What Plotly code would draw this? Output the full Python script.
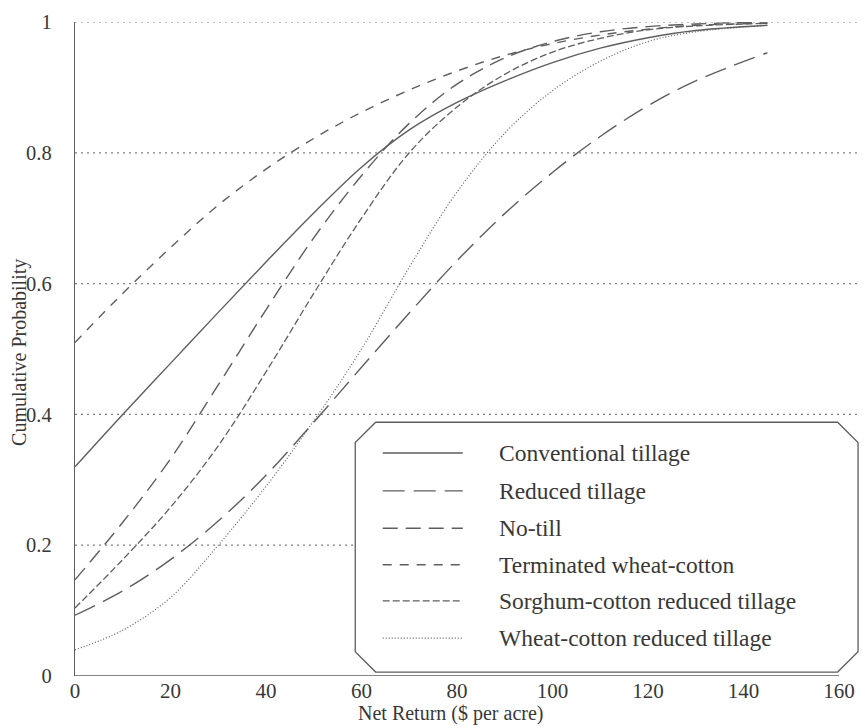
import plotly.graph_objects as go

net_return = [0, 10, 20, 30, 40, 50, 60, 70, 80, 90, 100, 110, 120, 130, 145]

conventional = [0.32, 0.40, 0.478, 0.556, 0.633, 0.708, 0.778, 0.835, 0.877, 0.91, 0.938, 0.96, 0.976, 0.987, 0.995]
reduced = [0.093, 0.13, 0.178, 0.237, 0.307, 0.388, 0.472, 0.555, 0.635, 0.707, 0.77, 0.825, 0.872, 0.91, 0.953]
no_till = [0.147, 0.235, 0.332, 0.445, 0.56, 0.67, 0.765, 0.845, 0.905, 0.945, 0.97, 0.985, 0.993, 0.997, 1.0]
terminated = [0.51, 0.585, 0.655, 0.72, 0.775, 0.822, 0.862, 0.896, 0.925, 0.949, 0.967, 0.98, 0.989, 0.995, 0.998]
sorghum = [0.104, 0.178, 0.258, 0.352, 0.465, 0.585, 0.7, 0.8, 0.87, 0.92, 0.954, 0.975, 0.988, 0.994, 0.998]
wheat_cotton = [0.04, 0.07, 0.12, 0.2, 0.29, 0.39, 0.5, 0.625, 0.74, 0.83, 0.895, 0.94, 0.97, 0.985, 0.995]

series_names = ["Conventional tillage", "Reduced tillage", "No-till",
                "Terminated wheat-cotton", "Sorghum-cotton reduced tillage",
                "Wheat-cotton reduced tillage"]
series_values = [conventional, reduced, no_till, terminated, sorghum, wheat_cotton]
dashes = ["solid", "22px,9px", "15px,8px", "9px,8px", "7px,3px", "1px,2px"]
widths = [1.4, 1.4, 1.4, 1.4, 1.3, 1.2]

x_ticks = [0, 20, 40, 60, 80, 100, 120, 140, 160]
y_ticks = [0, 0.2, 0.4, 0.6, 0.8, 1]
y_tick_text = ["0", "0.2", "0.4", "0.6", "0.8", "1"]

LINE = "#5e5e5e"
TEXT = "#383838"
FONT = "Liberation Serif"

fig = go.Figure()
for name, vals, d, w in zip(series_names, series_values, dashes, widths):
    fig.add_trace(go.Scatter(x=net_return, y=vals, mode="lines", name=name,
                             line=dict(color=LINE, width=w, dash=d, shape="spline", smoothing=1.0),
                             showlegend=False, cliponaxis=False))

shapes = []
# dotted gridlines
for yv in y_ticks[1:]:
    shapes.append(dict(type="line", xref="paper", yref="y", x0=0, x1=1, y0=yv, y1=yv,
                       line=dict(color="#808080", width=1.2, dash="2px,4px"), layer="below"))
# x axis line up to 160
shapes.append(dict(type="line", xref="x", yref="y", x0=0, x1=160, y0=0, y1=0,
                   line=dict(color=LINE, width=1.4)))

# legend box with chamfered corners (paper coords)
L, R, T, B = 0.357, 0.9975, 0.388, 0.006
cx, cy = 0.026, 0.031
path = (f"M {L+cx},{T} L {R-cx},{T} L {R},{T-cy} L {R},{B+cy} L {R-cx},{B} "
        f"L {L+cx},{B} L {L},{B+cy} L {L},{T-cy} Z")
shapes.append(dict(type="path", xref="paper", yref="paper", path=path,
                   line=dict(color=LINE, width=1.3), fillcolor="white"))

row_y = [0.341, 0.283, 0.226, 0.170, 0.115, 0.058]
annotations = []
for name, d, w, ry in zip(series_names, dashes, widths, row_y):
    shapes.append(dict(type="line", xref="paper", yref="paper", x0=0.392, x1=0.494, y0=ry, y1=ry,
                       line=dict(color=LINE, width=w, dash=d)))
    annotations.append(dict(xref="paper", yref="paper", x=0.5376, y=ry, text=name, showarrow=False,
                            xanchor="left", yanchor="middle",
                            font=dict(family=FONT, size=23.5, color=TEXT)))

annotations.append(dict(xref="paper", yref="paper", x=0.478, y=-0.058, text="Net Return ($ per acre)",
                        showarrow=False, xanchor="center", yanchor="middle",
                        font=dict(family=FONT, size=20, color=TEXT)))
annotations.append(dict(xref="paper", yref="paper", x=-0.0705, y=0.495, text="Cumulative Probability",
                        showarrow=False, xanchor="center", yanchor="middle", textangle=-90,
                        font=dict(family=FONT, size=20, color=TEXT)))

# page body adds an 8px offset; figure is sized so that the plot area lands on the reference's
fig.update_layout(
    width=860, height=720,
    margin=dict(l=67, r=8, t=14, b=52),
    paper_bgcolor="white", plot_bgcolor="white",
    shapes=shapes, annotations=annotations,
    showlegend=False,
    xaxis=dict(range=[0, 164.4], tickvals=x_ticks, ticktext=[str(v) for v in x_ticks],
               showgrid=False, zeroline=False, showline=False, ticks="",
               ticklabelstandoff=0, automargin=False,
               tickfont=dict(family=FONT, size=21, color=TEXT)),
    yaxis=dict(range=[0, 1], tickvals=y_ticks, ticktext=y_tick_text,
               showgrid=False, zeroline=False, showline=True, linecolor=LINE, linewidth=1.4,
               ticks="", ticklabelstandoff=18, automargin=False,
               tickfont=dict(family=FONT, size=20.5, color=TEXT)),
)

fig.write_html("out.html")
